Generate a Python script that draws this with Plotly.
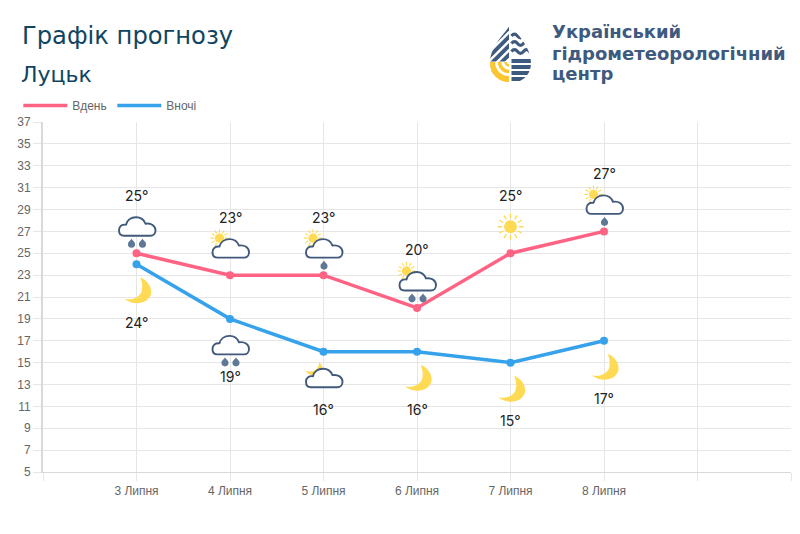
import base64
import plotly.graph_objects as go

# Forecast data
days = ["3 Липня", "4 Липня", "5 Липня", "6 Липня", "7 Липня", "8 Липня"]
day_temps = [25, 23, 23, 20, 25, 27]
night_temps = [24, 19, 16, 16, 15, 17]
day_icons = ["rain2", "partly", "partly1", "partly2", "sun", "partly1"]
night_icons = ["moon", "rain2", "partlymoon", "moon", "moon", "moon"]
tick_values = list(range(5, 38, 2))
tick_labels = ["", "3 Липня", "4 Липня", "5 Липня", "6 Липня", "7 Липня", "8 Липня", "", ""]

PINK = "#FF6384"
BLUE = "#36A2EB"
GOLD = "#FFDA55"
SLATE = "#41597A"
DROP = "#5F7896"
TITLE = "#0F4560"
LOGO_TEXT = "#3E5A7E"
LOGO_GOLD = "#FBC630"

PLOT_W = 748
PLOT_H = 350
X_SPAN = 8
Y_MIN, Y_MAX = 5, 37
ICON_PX = 50
ICON_OFFSET_PX = 26.5

CLOUD = (
    f'<path d="M12.5 34 C9 34 7.5 31.5 7.5 28.5 C7.5 24.5 10.5 22.5 14.5 23 C15.5 18.5 19.5 15.5 24.5 15.5 '
    f'C29 15.5 32.5 18 34 22 C39.5 21 44 24 44 28.5 C44 31.5 42 34 39 34 Z" '
    f'fill="white" stroke="{SLATE}" stroke-width="1.9" stroke-linejoin="round"/>'
)


def drop(cx):
    return (
        f'<path d="M{cx} 37 C{cx + 1} 38.6 {cx + 3.6} 40 {cx + 3.6} 42.4 '
        f'C{cx + 3.6} 44.6 {cx + 2} 46 {cx} 46 C{cx - 2} 46 {cx - 3.6} 44.6 {cx - 3.6} 42.4 '
        f'C{cx - 3.6} 40 {cx - 1} 38.6 {cx} 37 Z" fill="{DROP}"/>'
    )


def rays(cx, cy, r0, r1, width):
    parts = []
    dirs = [(1, 0), (0.866, 0.5), (0.5, 0.866), (0, 1), (-0.5, 0.866), (-0.866, 0.5),
            (-1, 0), (-0.866, -0.5), (-0.5, -0.866), (0, -1), (0.5, -0.866), (0.866, -0.5)]
    for dx, dy in dirs:
        parts.append(
            f'<line x1="{cx + dx * r0:.2f}" y1="{cy + dy * r0:.2f}" x2="{cx + dx * r1:.2f}" '
            f'y2="{cy + dy * r1:.2f}" stroke="{GOLD}" stroke-width="{width}" stroke-linecap="round"/>'
        )
    return "".join(parts)


def sun(cx, cy, core, r0, r1, width):
    return f'<circle cx="{cx}" cy="{cy}" r="{core}" fill="{GOLD}"/>' + rays(cx, cy, r0, r1, width)


SMALL_SUN = sun(14.5, 14.5, 4.6, 6, 8.6, 1.1)
MOON = (
    f'<path d="M28.5 11.5 C36.5 14.5 40.5 22 39.5 28 C37.5 37 24 41.5 12.5 33 '
    f'C21 35 28 31.5 30 26 C31.5 20.5 30.5 15.5 28.5 11.5 Z" fill="{GOLD}"/>'
)
SMALL_MOON = (
    f'<path d="M20.5 9 C24 11 24.5 16 23 20 C20 24 11 23.5 7 17.5 '
    f'C11.5 19 15.5 18 17.5 16 C19.5 14 20.8 12 20.5 9 Z" fill="{GOLD}"/>'
)

ICON_BODIES = {
    "rain2": CLOUD + drop(20) + drop(31),
    "partly": SMALL_SUN + CLOUD,
    "partly1": SMALL_SUN + CLOUD + drop(25.5),
    "partly2": SMALL_SUN + CLOUD + drop(20) + drop(31),
    "sun": sun(25, 25, 6.5, 9, 12.5, 1.4),
    "moon": MOON,
    "partlymoon": SMALL_MOON + CLOUD,
}


def svg_uri(body, w, h):
    svg = f'<svg xmlns="http://www.w3.org/2000/svg" width="{w}" height="{h}" viewBox="0 0 {w} {h}">{body}</svg>'
    return "data:image/svg+xml;base64," + base64.b64encode(svg.encode("utf-8")).decode("ascii")


# Emblem: a water drop built from striped halves with a yellow sun corner
def emblem():
    clip = (
        '<clipPath id="d"><path d="M20.5 0 C24 8 41 21 41 39 C41 51 32 59 20.5 59 '
        'C9 59 0 51 0 39 C0 21 17 8 20.5 0 Z"/></clipPath>'
    )
    parts = [f"<defs>{clip}</defs><g clip-path=\"url(#d)\">"]
    # left half: diagonal stripes
    for y0 in [1, 10, 19, 28]:
        parts.append(
            f'<path d="M19 {y0} L19 {y0 + 5.5} L-6 {y0 + 30.5} L-6 {y0 + 25} Z" fill="{LOGO_TEXT}"/>'
        )
    parts.append('<rect x="-1" y="37.5" width="21" height="23" fill="white"/>')
    # bottom-left: concentric sun arcs
    parts.append(f'<path d="M2 38 A17 17 0 0 0 19 55" fill="none" stroke="{LOGO_GOLD}" stroke-width="6"/>')
    parts.append(f'<path d="M9.5 38 A9.5 9.5 0 0 0 19 47.5" fill="none" stroke="{LOGO_GOLD}" stroke-width="3.5"/>')
    parts.append(f'<path d="M15.5 38 A3.5 3.5 0 0 0 19 41.5" fill="none" stroke="{LOGO_GOLD}" stroke-width="2.5"/>')
    # right half: waves up top, flat stripes lower down
    for y0 in [12, 19.5, 27.5]:
        parts.append(
            f'<path d="M21.5 {y0} q3 -3.6 6 0 t6 0 t6 0 t6 0" fill="none" stroke="{LOGO_TEXT}" stroke-width="3.2"/>'
        )
    for y0 in [35, 41, 47, 53]:
        parts.append(f'<rect x="21.5" y="{y0}" width="22" height="4" fill="{LOGO_TEXT}"/>')
    parts.append("</g>")
    return "".join(parts)


fig = go.Figure()

# Lines carry the legend entries; dots are separate so the legend keys stay plain
fig.add_trace(go.Scatter(x=days, y=day_temps, mode="lines", name="Вдень",
                         line=dict(color=PINK, width=3.5)))
fig.add_trace(go.Scatter(x=days, y=night_temps, mode="lines", name="Вночі",
                         line=dict(color=BLUE, width=3.5)))
fig.add_trace(go.Scatter(x=days, y=day_temps, mode="markers", showlegend=False,
                         marker=dict(color=PINK, size=8)))
fig.add_trace(go.Scatter(x=days, y=night_temps, mode="markers", showlegend=False,
                         marker=dict(color=BLUE, size=8)))

unit_x = X_SPAN / PLOT_W
unit_y = (Y_MAX - Y_MIN) / PLOT_H
images = []
annotations = []

for name, dv, nv, di, ni in zip(days, day_temps, night_temps, day_icons, night_icons):
    for val, icon, sign in ((dv, di, 1), (nv, ni, -1)):
        images.append(dict(
            source=svg_uri(ICON_BODIES[icon], ICON_PX, ICON_PX),
            xref="x", yref="y", x=name, y=val + sign * ICON_OFFSET_PX * unit_y,
            sizex=ICON_PX * unit_x, sizey=ICON_PX * unit_y,
            xanchor="center", yanchor="middle", layer="above", sizing="stretch",
        ))
        annotations.append(dict(
            x=name, y=val, xref="x", yref="y", text=f"{val}°", showarrow=False,
            yshift=sign * 58, font=dict(family="Inter, Open Sans, sans-serif", size=14, color="#222222"),
        ))

images.append(dict(
    source=svg_uri(emblem(), 41, 59), xref="paper", yref="paper",
    x=(490 - 43) / PLOT_W, y=(472 - 24) / PLOT_H, sizex=41 / PLOT_W, sizey=59 / PLOT_H,
    xanchor="left", yanchor="top", layer="above", sizing="stretch",
))


def page_text(text, px, py, size, color, weight=400, family="Inter, Open Sans, sans-serif"):
    annotations.append(dict(
        text=text, xref="paper", yref="paper", x=(px - 43) / PLOT_W, y=(472 - py) / PLOT_H,
        xanchor="left", yanchor="middle", showarrow=False,
        font=dict(family=family, size=size, color=color, weight=weight),
    ))


page_text("Графік прогнозу", 20, 36, 24.2, TITLE, 400, "DejaVu Sans, sans-serif")
page_text("Луцьк", 19, 75, 22, TITLE, 400, "DejaVu Sans, sans-serif")
page_text("Український", 550, 31, 18, LOGO_TEXT, 700, "DejaVu Sans, sans-serif")
page_text("гідрометеорологічний", 550, 53, 18, LOGO_TEXT, 700, "DejaVu Sans, sans-serif")
page_text("центр", 550, 74, 18, LOGO_TEXT, 700, "DejaVu Sans, sans-serif")

fig.update_layout(
    width=800, height=534, autosize=False,
    margin=dict(l=43, r=9, t=122, b=62),
    paper_bgcolor="white", plot_bgcolor="white",
    images=images, annotations=annotations,
    font=dict(family="Liberation Sans, Arial, sans-serif", size=12, color="#666666"),
    legend=dict(
        orientation="h", x=-0.033, y=1.006, xanchor="left", yanchor="bottom",
        itemwidth=44, font=dict(size=12, color="#666666"), bgcolor="rgba(0,0,0,0)",
        tracegroupgap=0, entrywidth=35, entrywidthmode="pixels",
    ),
    xaxis=dict(
        type="category", categoryorder="array",
        categoryarray=["", *days, " ", "  "],
        tickmode="array", tickvals=list(range(9)), ticktext=tick_labels,
        range=[0, X_SPAN], showgrid=True, gridcolor="#E6E6E6", gridwidth=1,
        showline=True, linecolor="#D9D9D9", linewidth=1,
        ticks="outside", ticklen=8, tickcolor="#E6E6E6", tickangle=0, zeroline=False,
    ),
    yaxis=dict(
        range=[Y_MIN, Y_MAX], tickmode="array", tickvals=tick_values,
        showgrid=True, gridcolor="#E6E6E6", gridwidth=1,
        showline=True, linecolor="#D9D9D9", linewidth=2,
        ticks="outside", ticklen=8, tickcolor="#E6E6E6", zeroline=False,
    ),
)

fig.write_html("out.html", config={"displayModeBar": False})
